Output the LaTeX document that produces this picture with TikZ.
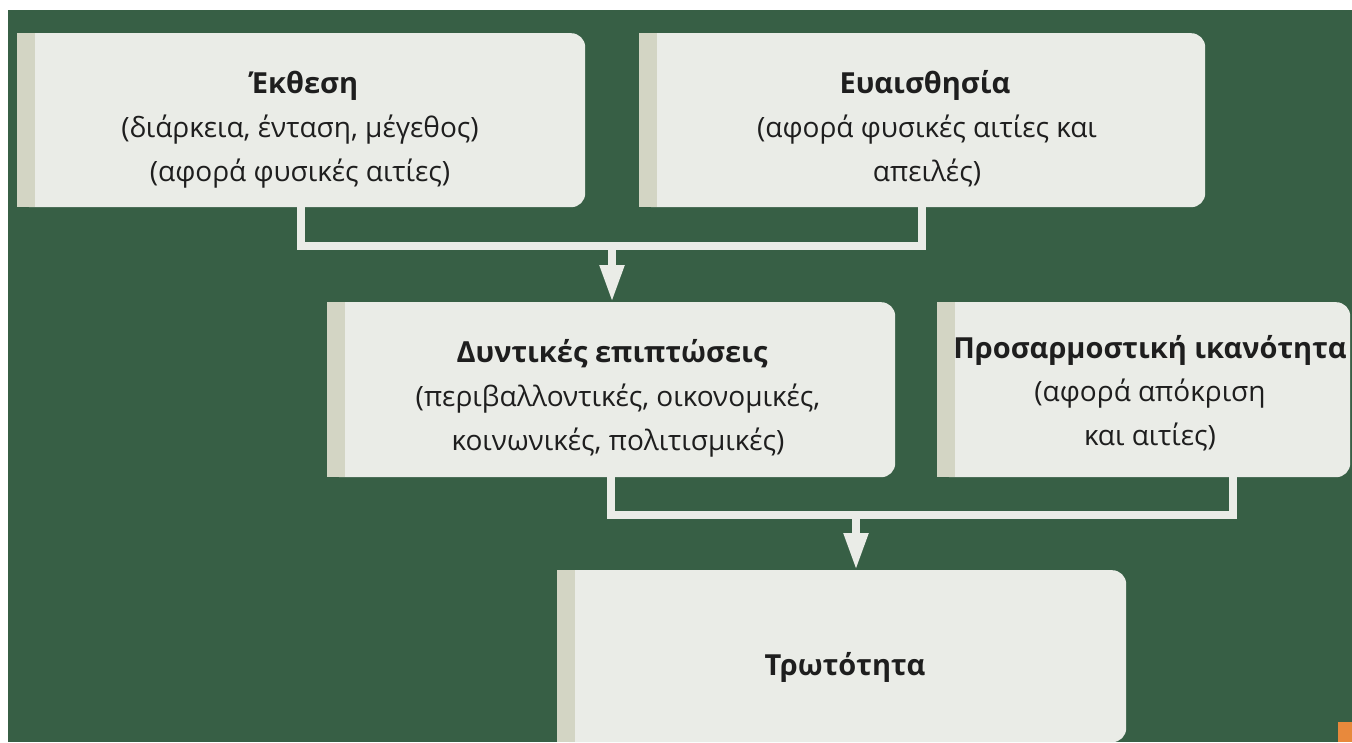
\documentclass[tikz,border=0pt]{standalone}
\usepackage{fontspec}
\setmainfont{Open Sans}
\usetikzlibrary{arrows.meta}
\definecolor{bggreen}{HTML}{375F45}
\definecolor{boxfill}{HTML}{EAECE7}
\definecolor{stripecol}{HTML}{D3D5C4}
\definecolor{txt}{HTML}{1E1E1E}
\definecolor{orangemark}{HTML}{E8893C}
\tikzset{
  box/.style={fill=boxfill, rounded corners=14pt, anchor=north west, inner sep=0pt},
  ttl/.style={anchor=base, text=txt, font=\fontsize{29}{34}\selectfont\bfseries, inner sep=0pt},
  sub/.style={anchor=base, text=txt, font=\fontsize{28}{33}\selectfont, inner sep=0pt},
  conn/.style={draw=boxfill, line width=8pt, line join=miter},
  tip/.style={-{Triangle[width=23pt,length=37pt]}}
}
\newcommand{\stripebox}[1]{\fill[stripecol] (#1.north west) rectangle ([xshift=18pt]#1.south west);}
\begin{document}
\begin{tikzpicture}[x=1pt,y=-1pt]
\useasboundingbox (0,0) rectangle (1352,742);
\fill[white] (0,0) rectangle (1352,742);
\fill[bggreen] (8,10) rectangle (1352,742);
\fill[orangemark] (1338,722) rectangle (1352,742);
% boxes
\node[box, minimum width=568pt, minimum height=174pt] (b1) at (17,33) {};
\node[box, minimum width=566pt, minimum height=174pt] (b2) at (639,33) {};
\node[box, minimum width=568pt, minimum height=175pt] (b3) at (327,302) {};
\node[box, minimum width=413pt, minimum height=175pt] (b4) at (937,302) {};
\node[box, minimum width=569pt, minimum height=172pt] (b5) at (557,570) {};
\stripebox{b1}\stripebox{b2}\stripebox{b3}\stripebox{b4}\stripebox{b5}
% connectors
\coordinate (j1) at (612,246);
\coordinate (j2) at (856,515);
\coordinate (c4) at (1233,477);
\draw[conn] (b1.south) |- (j1) -| (b2.south);
\draw[conn, tip] (j1) -- (j1 |- b3.north);
\draw[conn] (b3.south) |- (j2) -| (c4);
\draw[conn, tip] (j2) -- (j2 |- b5.north);
% texts
\node[ttl] (t1a) at (304,93) {Έκθεση};
\node[sub] (t1b) at (300,137) {(διάρκεια, ένταση, μέγεθος)};
\node[sub] (t1c) at (300,181) {(αφορά φυσικές αιτίες)};
\node[ttl] (t2a) at (925,93) {Ευαισθησία};
\node[sub] (t2b) at (927,137) {(αφορά φυσικές αιτίες και};
\node[sub] (t2c) at (927,181) {απειλές)};
\node[ttl] (t3a) at (612,362) {Δυντικές επιπτώσεις};
\node[sub] (t3b) at (618,406) {(περιβαλλοντικές, οικονομικές,};
\node[sub] (t3c) at (618,450) {κοινωνικές, πολιτισμικές)};
\node[ttl] (t4a) at (1150,358) {Προσαρμοστική ικανότητα};
\node[sub] (t4b) at (1150,401) {(αφορά απόκριση};
\node[sub] (t4c) at (1150,445) {και αιτίες)};
\node[ttl] (t5a) at (845,675) {Τρωτότητα};
\end{tikzpicture}
\end{document}
